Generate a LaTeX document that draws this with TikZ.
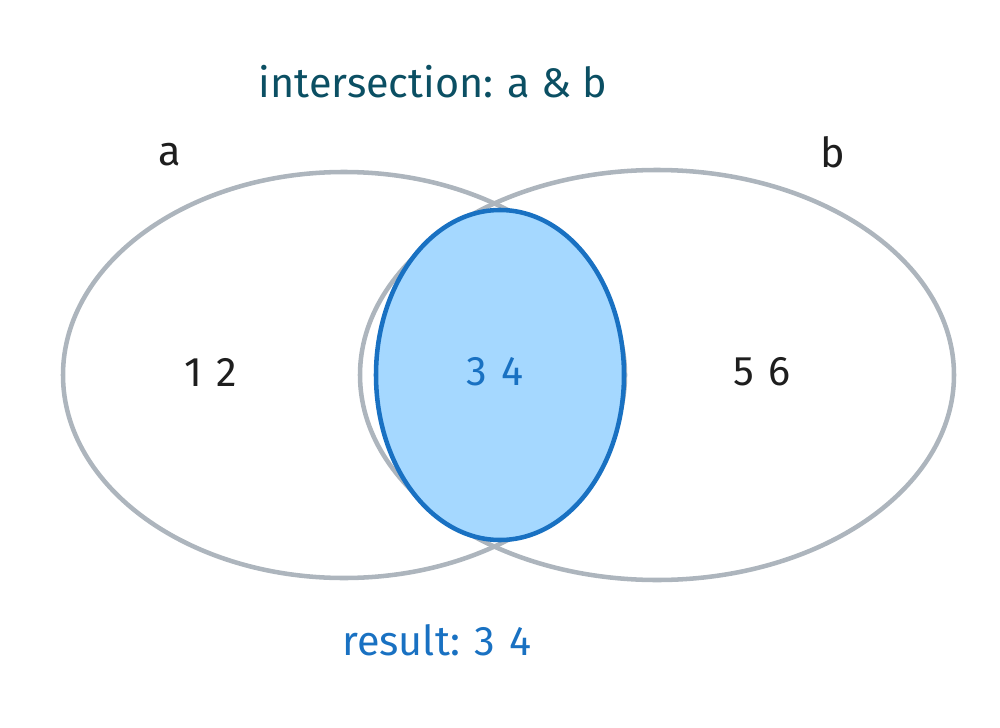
\documentclass[tikz,border=0pt]{standalone}
\usepackage{fontspec}
\setmainfont{Fira Sans}
\definecolor{setgray}{HTML}{ADB5BD}
\definecolor{resblue}{HTML}{1971C2}
\definecolor{resfill}{HTML}{A5D8FF}
\definecolor{titleteal}{HTML}{0B4F63}
\definecolor{inkblack}{HTML}{1E1E1E}
\begin{document}
\begin{tikzpicture}[x=0.75pt,y=-0.75pt,
  setring/.style={draw=setgray,line width=3.4pt},
  resring/.style={draw=resblue,fill=resfill,line width=3.4pt},
  lbl/.style={font=\fontsize{31}{36}\selectfont,inner sep=0pt,anchor=center},
]
\useasboundingbox (0,0) rectangle (1000,728);
\draw[setring] (344,375) ellipse [x radius=281, y radius=203];
\draw[setring] (657,375) ellipse [x radius=297, y radius=205];
\draw[resring] (500,375) ellipse [x radius=124, y radius=165];
\node[lbl,text=titleteal] (title) at (433,82) {intersection: a \& b};
\node[lbl,text=inkblack] (la) at (170,155) {a};
\node[lbl,text=inkblack] (lb) at (833,152) {b};
\node[lbl,text=inkblack] (onlya) at (211,372) {1\hspace{0.35em}2};
\node[lbl,text=resblue] (both) at (495,372) {3\hspace{0.35em}4};
\node[lbl,text=inkblack] (onlyb) at (762,372) {5\hspace{0.35em}6};
\node[lbl,text=resblue] (result) at (437,640) {result: 3\hspace{0.35em}4};
\end{tikzpicture}
\end{document}
